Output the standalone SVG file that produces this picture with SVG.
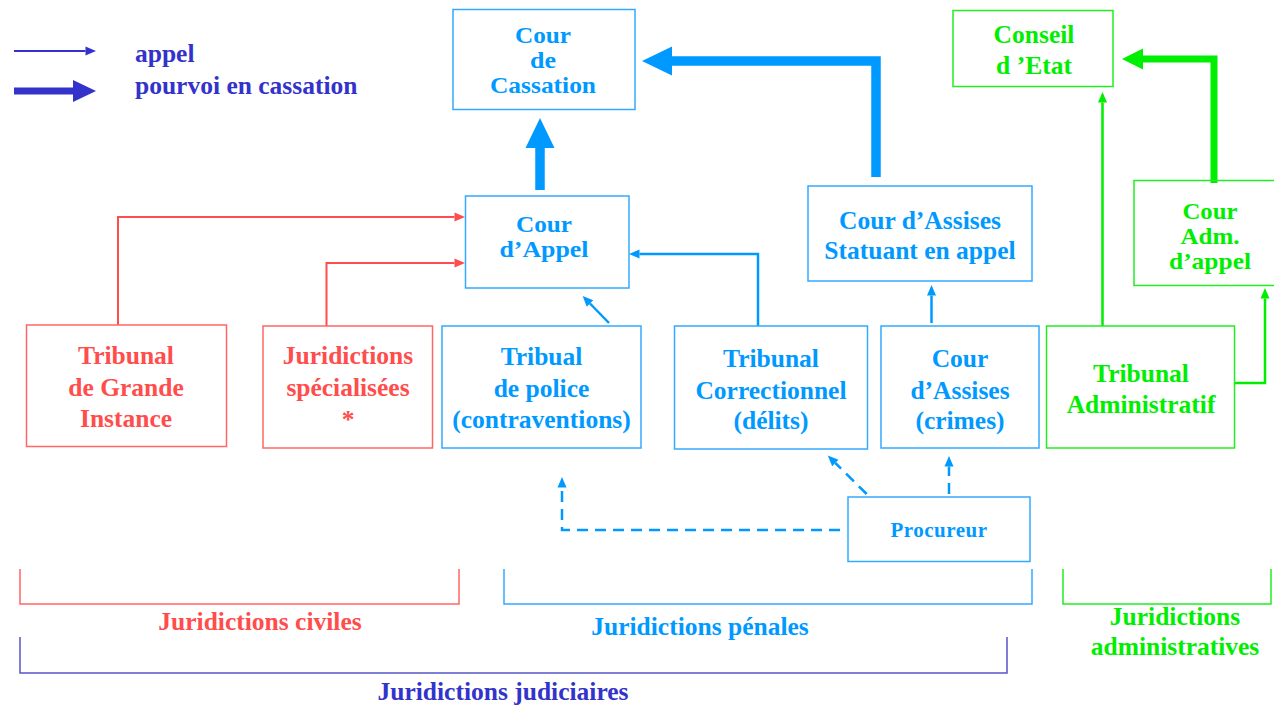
<svg xmlns="http://www.w3.org/2000/svg" width="1274" height="709" viewBox="0 0 1274 709">
<style>
text{font-family:"Liberation Serif","Times New Roman",serif;font-weight:bold;font-size:25.5px;text-anchor:middle}
text.s{font-size:22.5px}
.r{fill:#ff4d4d}.b{fill:#0099ff}.g{fill:#00ee00}.d{fill:#3333cc}
.br{fill:none;stroke:#ff6666;stroke-width:1.5}
.bb{fill:none;stroke:#33aaff;stroke-width:1.5}
.bg{fill:none;stroke:#22ee22;stroke-width:1.5}
.cr{fill:none;stroke:#ff4d4d;stroke-width:2;marker-end:url(#hr)}
.cb{fill:none;stroke:#0099ff;stroke-width:2.5;marker-end:url(#hb)}
.cd{fill:none;stroke:#0099ff;stroke-width:2.5;stroke-dasharray:11 7;marker-end:url(#hb)}
.cg{fill:none;stroke:#00ee00;stroke-width:2.5;marker-end:url(#hg)}
.tb{fill:none;stroke:#0099ff;stroke-width:9.5;stroke-linejoin:miter;marker-end:url(#Hb)}
.tg{fill:none;stroke:#00ee00;stroke-width:7;stroke-linejoin:miter;marker-end:url(#Hg)}
</style>
<defs>
<marker id="hr" markerUnits="userSpaceOnUse" markerWidth="11" markerHeight="10" refX="0" refY="4.5" orient="auto" overflow="visible"><path d="M0,0 L10.5,4.5 L0,9 z" fill="#ff4d4d"/></marker>
<marker id="hb" markerUnits="userSpaceOnUse" markerWidth="11" markerHeight="10" refX="0" refY="4.5" orient="auto" overflow="visible"><path d="M0,0 L10.5,4.5 L0,9 z" fill="#0099ff"/></marker>
<marker id="hg" markerUnits="userSpaceOnUse" markerWidth="11" markerHeight="10" refX="0" refY="4.5" orient="auto" overflow="visible"><path d="M0,0 L10.5,4.5 L0,9 z" fill="#00ee00"/></marker>
<marker id="hd" markerUnits="userSpaceOnUse" markerWidth="11" markerHeight="10" refX="0" refY="4.5" orient="auto" overflow="visible"><path d="M0,0 L10.5,4.5 L0,9 z" fill="#3333cc"/></marker>
<marker id="Hb" markerUnits="userSpaceOnUse" markerWidth="31" markerHeight="30" refX="0" refY="14.5" orient="auto" overflow="visible"><path d="M0,0 L30,14.5 L0,29 z" fill="#0099ff"/></marker>
<marker id="Hg" markerUnits="userSpaceOnUse" markerWidth="22" markerHeight="22" refX="0" refY="10.5" orient="auto" overflow="visible"><path d="M0,0 L21,10.5 L0,21 z" fill="#00ee00"/></marker>
<marker id="Hd" markerUnits="userSpaceOnUse" markerWidth="24" markerHeight="23" refX="0" refY="11" orient="auto" overflow="visible"><path d="M0,0 L23,11 L0,22 z" fill="#3333cc"/></marker>
</defs>
<rect width="1274" height="709" fill="#ffffff"/>

<g id="legend">
<line x1="14" y1="51" x2="85.5" y2="51" stroke="#3333cc" stroke-width="2" marker-end="url(#hd)"/>
<line x1="14" y1="91" x2="73" y2="91" stroke="#3333cc" stroke-width="7" marker-end="url(#Hd)"/>
<text class="d" style="text-anchor:start"><tspan x="135" y="62">appel</tspan><tspan x="135" y="94">pourvoi en cassation</tspan></text>
</g>

<g id="connectors">
<polyline class="tb" points="540,190 540,148"/>
<polyline class="tb" points="876,177 876,61 672,61"/>
<polyline class="tg" points="1214,183 1214,59 1143,59"/>
<polyline class="cr" points="118,325 118,217 454.5,217"/>
<polyline class="cr" points="326.5,326 326.5,263 454.5,263"/>
<polyline class="cb" points="758,326 758,254 639.5,254"/>
<polyline class="cb" points="609,323 590,303.5"/>
<polyline class="cb" points="931.5,323 931.5,295.5"/>
<polyline class="cg" points="1102.5,326 1102.5,102.5"/>
<polyline class="cg" points="1234,383 1265,383 1265,298.5"/>
<polyline class="cd" points="840,530 562,530 562,487.5"/>
<polyline class="cd" points="866.7,494 835.3,463"/>
<polyline class="cd" points="949,494 949,466.5"/>
</g>

<g id="cour-cassation">
<rect class="bb" x="453" y="9.5" width="182" height="100"/>
<text class="b s" x="543" y="43.3" textLength="56" lengthAdjust="spacingAndGlyphs">Cour</text>
<text class="b s" x="543" y="68.3" textLength="26" lengthAdjust="spacingAndGlyphs">de</text>
<text class="b s" x="543" y="93.3" textLength="106" lengthAdjust="spacingAndGlyphs">Cassation</text>
</g>

<g id="conseil-etat">
<rect class="bg" x="953" y="10.5" width="160" height="76"/>
<text class="g"><tspan x="1034" y="43">Conseil</tspan><tspan x="1034" y="73.5">d ’Etat</tspan></text>
</g>

<g id="cour-appel">
<rect class="bb" x="465.5" y="196" width="163.5" height="92"/>
<text class="b s" x="544" y="231.8" textLength="56" lengthAdjust="spacingAndGlyphs">Cour</text>
<text class="b s" x="544" y="256.8" textLength="89" lengthAdjust="spacingAndGlyphs">d’Appel</text>
</g>

<g id="cour-assises-appel">
<rect class="bb" x="808" y="186" width="224" height="95"/>
<text class="b"><tspan x="920" y="228.5">Cour d’Assises</tspan><tspan x="920" y="258.5">Statuant en appel</tspan></text>
</g>

<g id="cour-adm-appel">
<rect class="bg" x="1134" y="180.5" width="160" height="105"/>
<text class="g s" x="1210" y="219" textLength="55" lengthAdjust="spacingAndGlyphs">Cour</text>
<text class="g s" x="1210" y="244" textLength="59" lengthAdjust="spacingAndGlyphs">Adm.</text>
<text class="g s" x="1210" y="269" textLength="82" lengthAdjust="spacingAndGlyphs">d’appel</text>
</g>

<g id="tgi">
<rect class="br" x="26.5" y="325" width="200" height="121.5"/>
<text class="r"><tspan x="126" y="364">Tribunal</tspan><tspan x="126" y="396">de Grande</tspan><tspan x="126" y="427">Instance</tspan></text>
</g>

<g id="juridictions-specialisees">
<rect class="br" x="263" y="326" width="169.5" height="122"/>
<text class="r"><tspan x="348" y="364">Juridictions</tspan><tspan x="348" y="396">spécialisées</tspan><tspan x="348" y="428">*</tspan></text>
</g>

<g id="tribunal-police">
<rect class="bb" x="442" y="326" width="199" height="122"/>
<text class="b"><tspan x="541.5" y="365">Tribual</tspan><tspan x="541.5" y="397">de police</tspan><tspan x="541.5" y="428">(contraventions)</tspan></text>
</g>

<g id="tribunal-correctionnel">
<rect class="bb" x="674.5" y="326" width="193" height="123"/>
<text class="b"><tspan x="771" y="367">Tribunal</tspan><tspan x="771" y="398.5">Correctionnel</tspan><tspan x="771" y="429">(délits)</tspan></text>
</g>

<g id="cour-assises">
<rect class="bb" x="881" y="326" width="158" height="122"/>
<text class="b"><tspan x="960" y="367">Cour</tspan><tspan x="960" y="398.5">d’Assises</tspan><tspan x="960" y="429">(crimes)</tspan></text>
</g>

<g id="tribunal-administratif">
<rect class="bg" x="1046.5" y="326" width="188" height="122"/>
<text class="g"><tspan x="1141" y="382">Tribunal</tspan><tspan x="1141" y="413">Administratif</tspan></text>
</g>

<g id="procureur">
<rect class="bb" x="848" y="497" width="182" height="64.5"/>
<text class="b" x="939" y="537" style="font-size:21px;letter-spacing:0.5px">Procureur</text>
</g>

<g id="groupings">
<path class="br" d="M20,569 V604 H459 V569"/>
<text class="r" x="260" y="630">Juridictions civiles</text>
<path class="bb" d="M504,569 V604 H1032 V569"/>
<text class="b" x="700" y="635">Juridictions pénales</text>
<path class="bg" d="M1063,569 V604 H1271 V569"/>
<text class="g"><tspan x="1175" y="625">Juridictions</tspan><tspan x="1175" y="655">administratives</tspan></text>
<path d="M20,637 V673 H1007 V637" fill="none" stroke="#5555cc" stroke-width="1.5"/>
<text class="d" x="503" y="700">Juridictions judiciaires</text>
</g>
</svg>
